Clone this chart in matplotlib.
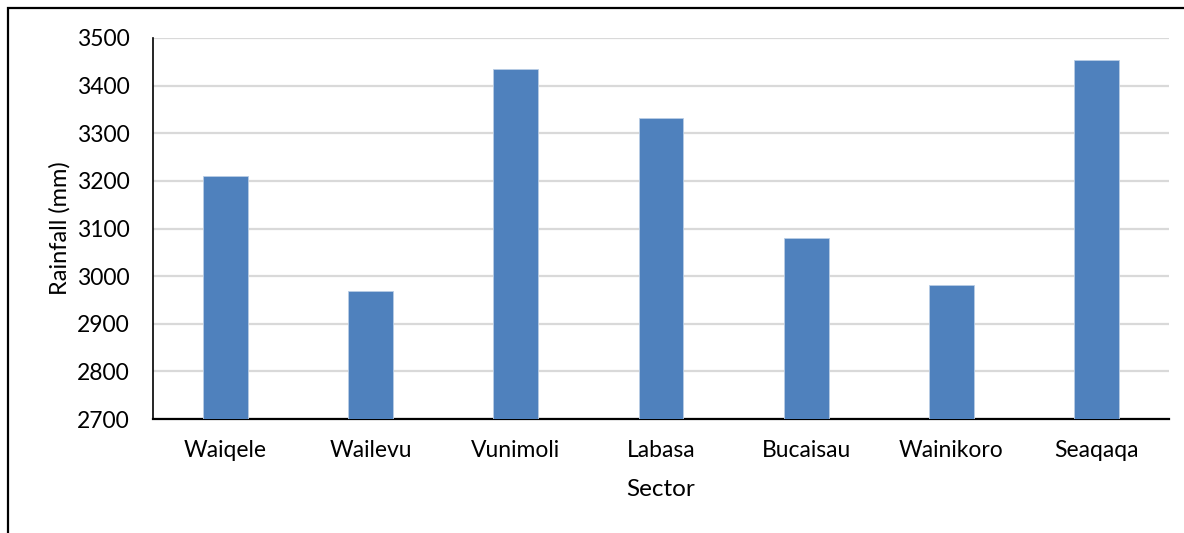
import matplotlib
matplotlib.use("Agg")
import matplotlib.pyplot as plt
from matplotlib.patches import Rectangle

sectors = ["Waiqele", "Wailevu", "Vunimoli", "Labasa", "Bucaisau", "Wainikoro", "Seaqaqa"]
rainfall = [3210, 2968, 3435, 3333, 3081, 2982, 3453]
y_ticks = [2700, 2800, 2900, 3000, 3100, 3200, 3300, 3400, 3500]

plt.rcParams['font.family'] = ['Lato', 'DejaVu Sans']

W, H = 1184, 533
fig = plt.figure(figsize=(W / 100, H / 100), dpi=100)
ax = fig.add_axes([153 / W, (H - 419) / H, (1169 - 153) / W, (419 - 38) / H])

x = range(len(sectors))
ax.bar(x, [v - 2700 for v in rainfall], bottom=2700, width=0.31,
       color="#4F81BD", edgecolor="#b9cde5", linewidth=0.6, zorder=3)

ax.set_xlim(-0.5, len(sectors) - 0.5)
ax.set_ylim(2700, 3500)
ax.set_yticks(y_ticks)
ax.set_xticks(list(x))
ax.set_xticklabels(sectors)
ax.tick_params(axis="both", length=0, labelsize=16.5, colors="black")
ax.tick_params(axis="y", pad=17)
ax.tick_params(axis="x", pad=15)
ax.grid(axis="y", color="#d9d9d9", linewidth=1.6, zorder=0)
for s in ["top", "right"]:
    ax.spines[s].set_visible(False)
ax.spines["left"].set_color("black")
ax.spines["bottom"].set_color("black")
ax.spines["left"].set_linewidth(1.2)
ax.spines["bottom"].set_linewidth(1.6)

fig.text(60 / W, 1 - 228 / H, "Rainfall (mm)", rotation=90, ha="center", va="center", fontsize=17)
fig.text(661 / W, 1 - 489 / H, "Sector", ha="center", va="center", fontsize=17.5)

fig.add_artist(Rectangle((8 / W, -0.1), 1.2, 1.1 - 8.5 / H, transform=fig.transFigure,
                         fill=False, edgecolor="black", linewidth=1.6))

fig.savefig("out.png", dpi=100)
